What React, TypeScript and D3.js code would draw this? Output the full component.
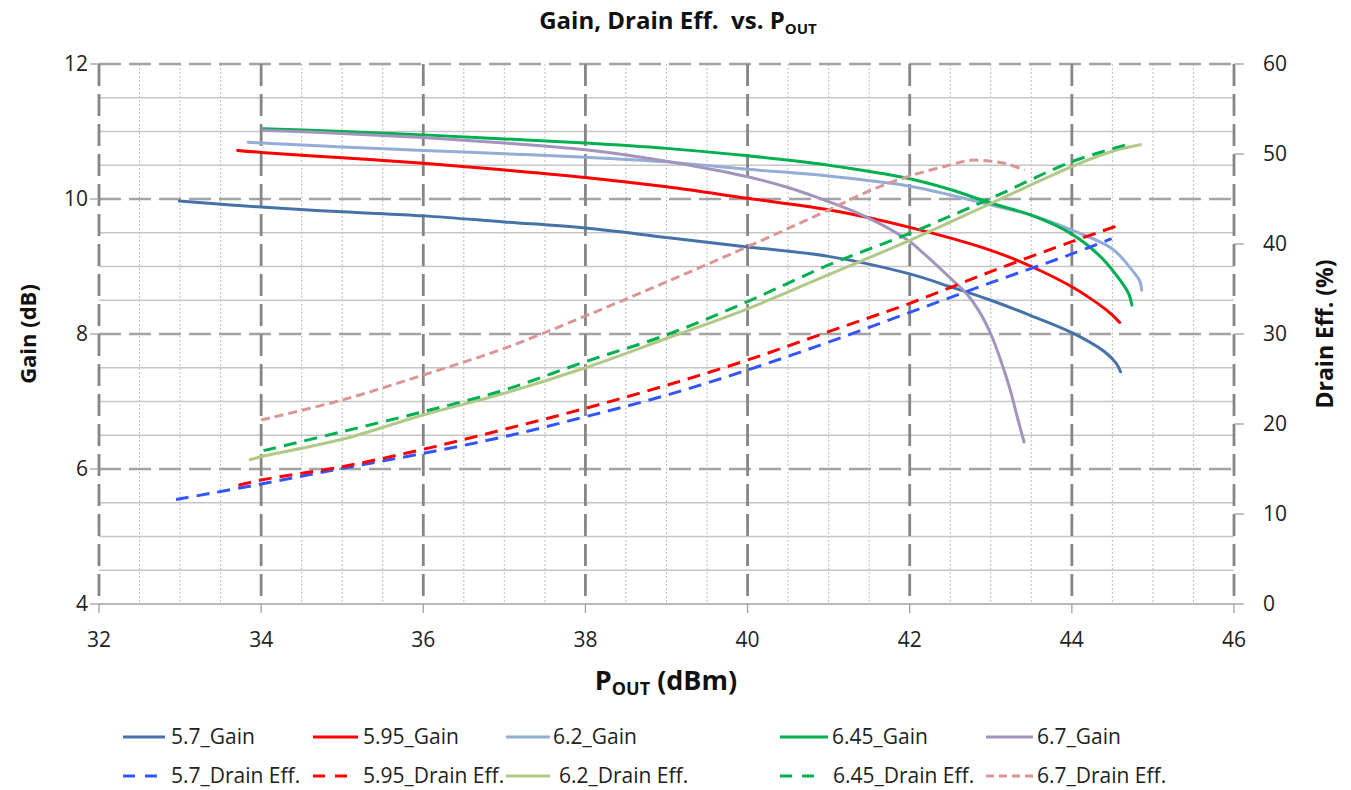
import React from "react";
import * as d3 from "d3";

// ---------- data ----------
const gain57P = [32.99, 34, 35, 36, 37, 38, 39, 40, 41, 42, 42.5, 43, 43.5, 44, 44.4, 44.55, 44.6];
const gain57V = [9.97, 9.88, 9.81, 9.75, 9.66, 9.57, 9.43, 9.29, 9.15, 8.89, 8.7, 8.5, 8.27, 8.02, 7.74, 7.56, 7.44];

const gain595P = [33.71, 34, 35, 36, 37, 38, 39, 40, 41, 42, 43, 43.5, 44, 44.2, 44.4, 44.5, 44.59];
const gain595V = [10.72, 10.69, 10.61, 10.53, 10.43, 10.32, 10.18, 10.01, 9.84, 9.58, 9.24, 9.0, 8.7, 8.55, 8.38, 8.28, 8.17];

const gain62P = [33.84, 34, 35, 36, 37, 38, 39, 40, 41, 42, 42.5, 43, 43.5, 44, 44.5, 44.76, 44.84, 44.86];
const gain62V = [10.84, 10.83, 10.77, 10.72, 10.67, 10.62, 10.55, 10.44, 10.34, 10.19, 10.06, 9.91, 9.76, 9.54, 9.26, 8.92, 8.78, 8.65];

const gain645P = [34.03, 35, 36, 37, 38, 39, 40, 41, 42, 42.5, 43, 43.5, 44, 44.35, 44.55, 44.7, 44.74];
const gain645V = [11.04, 11.0, 10.95, 10.89, 10.83, 10.75, 10.64, 10.5, 10.3, 10.14, 9.94, 9.76, 9.48, 9.15, 8.87, 8.6, 8.43];

const gain67P = [34.03, 35, 36, 37, 38, 39, 40, 40.5, 41, 41.4, 41.7, 42, 42.13, 42.5, 42.7, 42.85, 43.0, 43.12, 43.24, 43.32, 43.41];
const gain67V = [11.02, 10.97, 10.91, 10.83, 10.73, 10.56, 10.33, 10.17, 9.96, 9.77, 9.59, 9.37, 9.24, 8.83, 8.6, 8.35, 8.0, 7.62, 7.17, 6.8, 6.4];

const eff57P = [32.95, 34, 35, 36, 37, 38, 39, 40, 41, 42, 43, 44, 44.49];
const eff57V = [11.6, 13.33, 15.07, 16.74, 18.59, 20.81, 23.2, 26.0, 29.1, 32.4, 35.7, 38.9, 40.6];

const eff595P = [33.72, 34, 35, 36, 37, 38, 39, 40, 41, 42, 43, 44, 44.59];
const eff595V = [13.2, 13.78, 15.26, 17.19, 19.41, 21.74, 24.3, 27.11, 30.26, 33.41, 36.93, 40.26, 42.11];

const eff62P = [33.85, 34, 35, 36, 37, 38, 39, 40, 41, 42, 43, 44, 44.5, 44.86];
const eff62V = [16.0, 16.37, 18.3, 21.0, 23.41, 26.25, 29.5, 32.8, 36.6, 40.4, 44.5, 48.6, 50.3, 51.05];

const eff645P = [34.03, 35, 36, 37, 38, 39, 40, 41, 42, 43, 44, 44.68];
const eff645V = [17.04, 19.15, 21.37, 23.78, 26.93, 29.9, 33.6, 37.67, 41.19, 45.07, 49.15, 51.05];

const eff67P = [34.0, 35, 36, 37, 38, 39, 40, 41, 41.5, 42, 42.5, 42.75, 43, 43.2, 43.42];
const eff67V = [20.44, 22.67, 25.44, 28.41, 32.0, 35.8, 39.7, 43.78, 45.9, 47.56, 48.78, 49.3, 49.2, 48.9, 48.2];

const xTicks = [32, 34, 36, 38, 40, 42, 44, 46];
const yLeftTicks = [4, 6, 8, 10, 12];
const yRightTicks = [0, 10, 20, 30, 40, 50, 60];

const gainNames = ["5.7_Gain", "5.95_Gain", "6.2_Gain", "6.45_Gain", "6.7_Gain"];
const effNames = ["5.7_Drain Eff.", "5.95_Drain Eff.", "6.2_Drain Eff.", "6.45_Drain Eff.", "6.7_Drain Eff."];

// ---------- styles ----------
const gainColors = ["#4672AA", "#FF0000", "#93ADD6", "#00B050", "#A294BD"];
const effColors = ["#3355FF", "#FF0000", "#B0C987", "#00B050", "#D99694"];
const effDash = ["13,8", "13,8", null, "13,8", "9,5"];
const legendDash = ["12,10", "12,10", null, "12,10", "8,5"];

const FONT = "'Open Sans', 'Noto Sans', sans-serif";

export default function App() {
  const W = 1351, H = 790;
  const L = 99, R = 1234, T = 64, B = 604;
  const x = d3.scaleLinear().domain([32, 46]).range([L, R]);
  const yL = d3.scaleLinear().domain([4, 12]).range([B, T]);
  const yR = d3.scaleLinear().domain([0, 60]).range([B, T]);

  const gains = [
    [gain57P, gain57V], [gain595P, gain595V], [gain62P, gain62V], [gain645P, gain645V], [gain67P, gain67V],
  ];
  const effs = [
    [eff57P, eff57V], [eff595P, eff595V], [eff62P, eff62V], [eff645P, eff645V], [eff67P, eff67V],
  ];

  const lineL = d3.line<[number, number]>().x(d => x(d[0])).y(d => yL(d[1])).curve(d3.curveCatmullRom.alpha(0.5));
  const lineR = d3.line<[number, number]>().x(d => x(d[0])).y(d => yR(d[1])).curve(d3.curveCatmullRom.alpha(0.5));
  const zip = (p: number[], v: number[]) => p.map((pp, i) => [pp, v[i]] as [number, number]);

  const minorX = d3.range(32.5, 46, 0.5).filter(v => Math.abs(v % 2) > 1e-6);
  const minorY = d3.range(4.5, 12, 0.5).filter(v => Math.abs(v % 2) > 1e-6);
  const majorXInner = xTicks;
  const majorY = [6, 8, 10, 12];

  const legendCols1 = [
    { x1: 123, x2: 165, tx: 171 },
    { x1: 313, x2: 358, tx: 363 },
    { x1: 506, x2: 550, tx: 553 },
    { x1: 780, x2: 828, tx: 832 },
    { x1: 986, x2: 1033, tx: 1037 },
  ];
  const legendCols2 = [
    { x1: 123, x2: 165, tx: 171 },
    { x1: 313, x2: 357, tx: 363 },
    { x1: 506, x2: 550, tx: 559 },
    { x1: 780, x2: 822, tx: 833 },
    { x1: 986, x2: 1033, tx: 1037 },
  ];

  return (
    <div style={{ position: "absolute", left: 0, top: 0 }}>
      <svg width={W} height={H} style={{ display: "block", background: "#fff" }} fontFamily={FONT}>
        {/* minor vertical dotted */}
        {minorX.map(v => (
          <line key={"mx" + v} x1={x(v)} x2={x(v)} y1={T} y2={B} stroke="#bdbdbd" strokeWidth={1} strokeDasharray="2,2" />
        ))}
        {/* minor horizontal solid */}
        {minorY.map(v => (
          <line key={"my" + v} x1={L} x2={R} y1={yL(v)} y2={yL(v)} stroke="#c6c6c6" strokeWidth={1.3} />
        ))}
        {/* major horizontal dashed */}
        {majorY.map(v => (
          <line key={"My" + v} x1={L} x2={R} y1={yL(v)} y2={yL(v)} stroke="#a3a3a3" strokeWidth={2.6} strokeDasharray="22,8" />
        ))}
        {/* major vertical dashed */}
        {majorXInner.map(v => (
          <line key={"Mx" + v} x1={x(v)} x2={x(v)} y1={T} y2={B} stroke="#868686" strokeWidth={2.8} strokeDasharray="22,8" />
        ))}
        {/* bottom axis line */}
        <line x1={L} x2={R} y1={B} y2={B} stroke="#a0a0a0" strokeWidth={1.3} />
        {/* ticks */}
        {xTicks.map(v => (
          <line key={"xt" + v} x1={x(v)} x2={x(v)} y1={B} y2={B + 9} stroke="#a0a0a0" strokeWidth={1.3} />
        ))}
        {yLeftTicks.map(v => (
          <line key={"ylt" + v} x1={L - 9} x2={L} y1={yL(v)} y2={yL(v)} stroke="#a0a0a0" strokeWidth={1.3} />
        ))}
        {yRightTicks.map(v => (
          <line key={"yrt" + v} x1={R} x2={R + 10} y1={yR(v)} y2={yR(v)} stroke="#a0a0a0" strokeWidth={1.3} />
        ))}

        {/* tick labels */}
        {xTicks.map(v => (
          <text key={"xl" + v} x={x(v)} y={647} textAnchor="middle" fontSize={21} fill="#222">{v}</text>
        ))}
        {yLeftTicks.map(v => (
          <text key={"yll" + v} x={88} y={yL(v) + 7} textAnchor="end" fontSize={21} fill="#222">{v}</text>
        ))}
        {yRightTicks.map(v => (
          <text key={"yrl" + v} x={1263} y={yR(v) + 7} textAnchor="start" fontSize={21} fill="#222">{v}</text>
        ))}

        {/* gain series */}
        {gains.map(([p, v], i) => (
          <path key={"g" + i} d={lineL(zip(p, v)) || ""} fill="none" stroke={gainColors[i]} strokeWidth={3} strokeLinejoin="round" strokeLinecap="round" />
        ))}
        {/* efficiency series */}
        {effs.map(([p, v], i) => (
          <path key={"e" + i} d={lineR(zip(p, v)) || ""} fill="none" stroke={effColors[i]} strokeWidth={3}
            strokeDasharray={effDash[i] || undefined} strokeLinejoin="round" />
        ))}

        {/* title */}
        <text x={678} y={29} textAnchor="middle" fontSize={24} fontWeight="bold" fill="#111" style={{ whiteSpace: "pre" }}>
          {"Gain, Drain Eff.  vs. P"}
          <tspan fontSize={15} dy={5}>OUT</tspan>
        </text>

        {/* axis titles */}
        <text transform="translate(36,334) rotate(-90)" textAnchor="middle" fontSize={22} fontWeight="bold" fill="#111">Gain (dB)</text>
        <text transform="translate(1333,334) rotate(-90)" textAnchor="middle" fontSize={23} fontWeight="bold" fill="#111">Drain Eff. (%)</text>
        <text x={666} y={690} textAnchor="middle" fontSize={27} fontWeight="bold" fill="#111">
          {"P"}
          <tspan fontSize={18} dy={5}>OUT</tspan>
          <tspan dy={-5}>{" (dBm)"}</tspan>
        </text>

        {/* legend */}
        {gainNames.map((n, i) => (
          <g key={"lg" + i}>
            <line x1={legendCols1[i].x1} x2={legendCols1[i].x2} y1={737} y2={737} stroke={gainColors[i]} strokeWidth={3} />
            <text x={legendCols1[i].tx} y={744} fontSize={21} fill="#222">{n}</text>
          </g>
        ))}
        {effNames.map((n, i) => (
          <g key={"le" + i}>
            <line x1={legendCols2[i].x1} x2={legendCols2[i].x2} y1={776} y2={776} stroke={effColors[i]} strokeWidth={3}
              strokeDasharray={legendDash[i] || undefined} />
            <text x={legendCols2[i].tx} y={783} fontSize={21} fill="#222">{n}</text>
          </g>
        ))}
      </svg>
    </div>
  );
}
